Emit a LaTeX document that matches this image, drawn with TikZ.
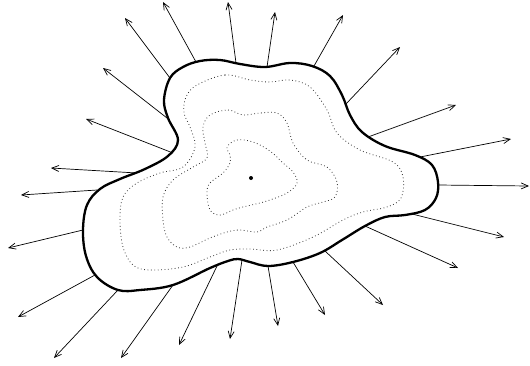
\documentclass[tikz,border=0pt]{standalone}
\usetikzlibrary{arrows.meta}
\begin{document}
\begin{tikzpicture}[x=1pt,y=-1pt,
  outline/.style={line width=2.3pt,line join=round},
  level/.style={line width=0.8pt,dash pattern=on 0.8pt off 2.6pt,black!80},
  ray/.style={line width=0.7pt,-{Straight Barb[length=7pt,width=6pt]}}]
\useasboundingbox (0,0) rectangle (530,365);
% outer boundary
\draw[outline] plot[smooth cycle,tension=0.6] coordinates {
 (170,78) (183,67) (200,61) (220,60) (240,64) (265,67) (290,63) (312,66)
 (330,76) (342,95) (350,115) (362,132) (385,146) (415,155) (432,165)
 (438,182) (436,198) (425,210) (405,215) (385,217) (365,226) (342,240)
 (320,253) (293,262) (268,266) (250,262) (238,259) (228,261) (210,268)
 (173,285) (140,290) (118,290) (97,277) (86,256) (83,230) (87,205)
 (100,189) (120,179) (145,169) (168,156) (178,140) (168,118) (164,100)};
% level curves
\draw[level] plot[smooth cycle,tension=0.6] coordinates {
 (197,85) (225,75) (250,80) (270,82) (290,80) (310,87) (327,110) (337,133)
 (360,150) (393,162) (403,177) (401,198) (387,207) (363,212) (343,220)
 (313,237) (277,250) (250,249) (230,250) (210,257) (183,267) (150,270)
 (133,265) (123,247) (120,220) (123,197) (137,183) (160,173) (183,167)
 (195,147) (190,127) (184,113) (186,97)};
\draw[level] plot[smooth cycle,tension=0.6] coordinates {
 (210,115) (228,110) (243,115) (260,113) (277,113) (287,123) (293,143)
 (307,160) (327,167) (337,182) (335,197) (323,202) (307,207) (287,220)
 (267,227) (257,232) (240,230) (227,232) (210,238) (190,247) (177,247)
 (167,237) (163,220) (163,197) (173,180) (193,167) (207,158) (205,143)
 (203,127)};
\draw[level] plot[smooth cycle,tension=0.6] coordinates {
 (227,147) (237,140) (253,142) (270,151) (283,163) (293,172) (297,183)
 (287,193) (270,200) (260,203) (243,207) (233,210) (220,215) (210,210)
 (207,193) (210,183) (223,173) (230,163) (230,155)};
% centre
\fill (251,178) circle (2);
% rays
\foreach \bx/\by/\tx/\ty in {
 196/62/163/2, 170/78/125/18, 167/118/103/68, 173/153/86/119,
 137/173/51/168, 236/63/228/2, 267/67/275/12, 314/66/343/15,
 345/105/400/47, 368/137/456/105, 420/157/511/139, 438/185/529/186,
 412/214/504/237, 365/226/458/268, 325/251/383/305, 293/262/325/315,
 268/266/278/326, 242/260/230/339, 217/266/179/345, 173/285/121/358,
 118/290/54/358, 95/275/18/317, 83/230/8/248, 97/190/21/195}
 \draw[ray] (\bx,\by) -- (\tx,\ty);
\end{tikzpicture}
\end{document}
